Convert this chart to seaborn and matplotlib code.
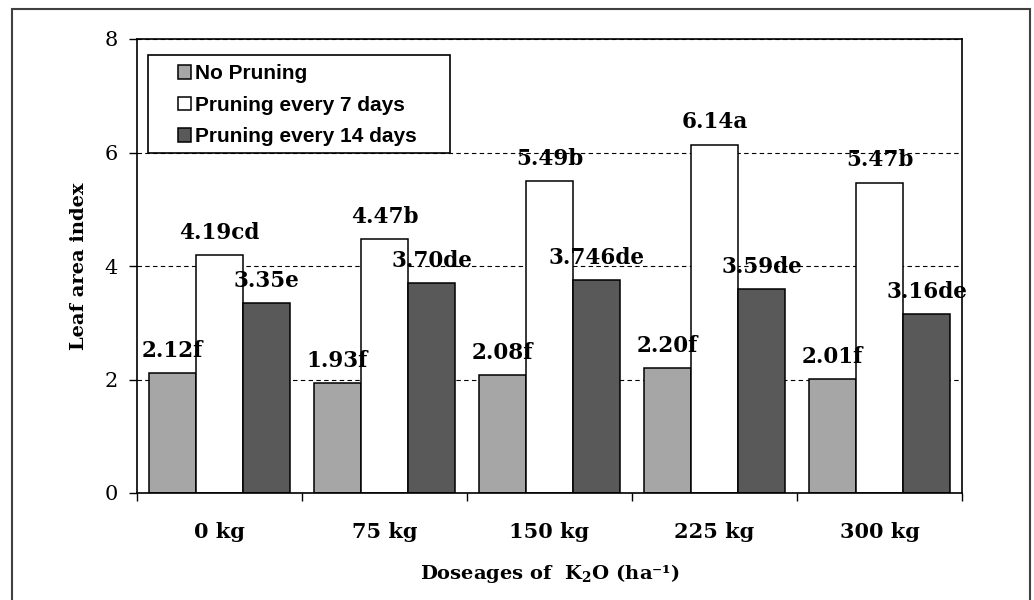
import matplotlib
matplotlib.use("Agg")
import matplotlib.pyplot as plt
from matplotlib.patches import Rectangle
import seaborn as sns
import pandas as pd

doses = ["0 kg", "75 kg", "150 kg", "225 kg", "300 kg"]
treatments = ["No Pruning", "Pruning every 7 days", "Pruning every 14 days"]
no_pruning = [2.12, 1.93, 2.08, 2.20, 2.01]
pruning_7 = [4.19, 4.47, 5.49, 6.14, 5.47]
pruning_14 = [3.35, 3.70, 3.746, 3.59, 3.16]
labels_no = ["2.12f", "1.93f", "2.08f", "2.20f", "2.01f"]
labels_7 = ["4.19cd", "4.47b", "5.49b", "6.14a", "5.47b"]
labels_14 = ["3.35e", "3.70de", "3.746de", "3.59de", "3.16de"]
colors = ["#A6A6A6", "#FFFFFF", "#595959"]

rows = []
for t, vals in zip(treatments, [no_pruning, pruning_7, pruning_14]):
    for d, v in zip(doses, vals):
        rows.append({"dose": d, "lai": v, "treatment": t})
df = pd.DataFrame(rows)

sns.set_style("white")
plt.rcParams["font.family"] = ["DejaVu Serif"]
plt.rcParams["text.color"] = "black"
plt.rcParams["axes.labelcolor"] = "black"
plt.rcParams["xtick.color"] = "black"
plt.rcParams["ytick.color"] = "black"
plt.rcParams["mathtext.fontset"] = "custom"
plt.rcParams["mathtext.bf"] = "DejaVu Serif:bold"
plt.rcParams["mathtext.rm"] = "DejaVu Serif:bold"
plt.rcParams["mathtext.default"] = "bf"

fig = plt.figure(figsize=(10.34, 6), dpi=100)
ax = fig.add_axes([137 / 1034, 107 / 600, 825 / 1034, 454 / 600])

sns.barplot(data=df, x="dose", y="lai", hue="treatment", order=doses,
            hue_order=treatments, palette=colors, width=0.855,
            edgecolor="black", linewidth=1.1, saturation=1, ax=ax,
            legend=True)

for cont, labs in zip(ax.containers, [labels_no, labels_7, labels_14]):
    ax.bar_label(cont, labels=labs, padding=8, fontsize=15.5,
                 fontweight="bold", family="DejaVu Serif", color="black")

ax.set_xlim(-0.5, 4.5)
ax.set_ylim(0, 8)
ax.set_yticks([0, 2, 4, 6, 8])
ax.set_axisbelow(True)
ax.yaxis.grid(True, linestyle=(0, (4, 3)), color="black", linewidth=0.8)
ax.tick_params(axis="y", which="major", direction="out", length=6,
               width=1, color="black", labelsize=15, pad=8, left=True)

# category boundaries as ticks, labels at centres
ax.set_xticks([-0.5, 0.5, 1.5, 2.5, 3.5, 4.5])
ax.set_xticklabels([])
ax.tick_params(axis="x", which="major", direction="out", length=6,
               width=1, color="black", bottom=True)
ax.set_xticks(range(len(doses)), minor=True)
ax.set_xticklabels(doses, minor=True, fontsize=15, fontweight="bold")
ax.tick_params(axis="x", which="minor", length=0, pad=21)

for s in ax.spines.values():
    s.set_visible(True)
    s.set_color("black")
    s.set_linewidth(1.2)

ax.set_ylabel("Leaf area index", fontsize=14, fontweight="bold", labelpad=12)
ax.set_xlabel("Doseages of  K$_2$O (ha\u207b\u00b9)", fontsize=14,
              fontweight="bold", labelpad=14)

handles, labs = ax.get_legend_handles_labels()
leg = ax.legend(handles, labs, loc="upper left",
                bbox_to_anchor=(31 / 825, 439 / 454), frameon=False,
                borderpad=0, handlelength=0.6, handleheight=0.6,
                handletextpad=0.2, labelspacing=0.6,
                prop={"family": "Liberation Sans", "weight": "bold",
                      "size": 15})
for t in leg.get_texts():
    t.set_color("black")
ax.add_patch(Rectangle((11 / 825, 340 / 454), 302 / 825, 98 / 454,
                       transform=ax.transAxes, fill=False,
                       edgecolor="black", linewidth=1.2, zorder=5,
                       clip_on=False))

fig.add_artist(Rectangle((12 / 1034, -0.02), 1018 / 1034, 591 / 600 + 0.02,
                         transform=fig.transFigure, fill=False,
                         edgecolor="#404040", linewidth=1.5))

fig.savefig("out.png", dpi=100, facecolor="white")
